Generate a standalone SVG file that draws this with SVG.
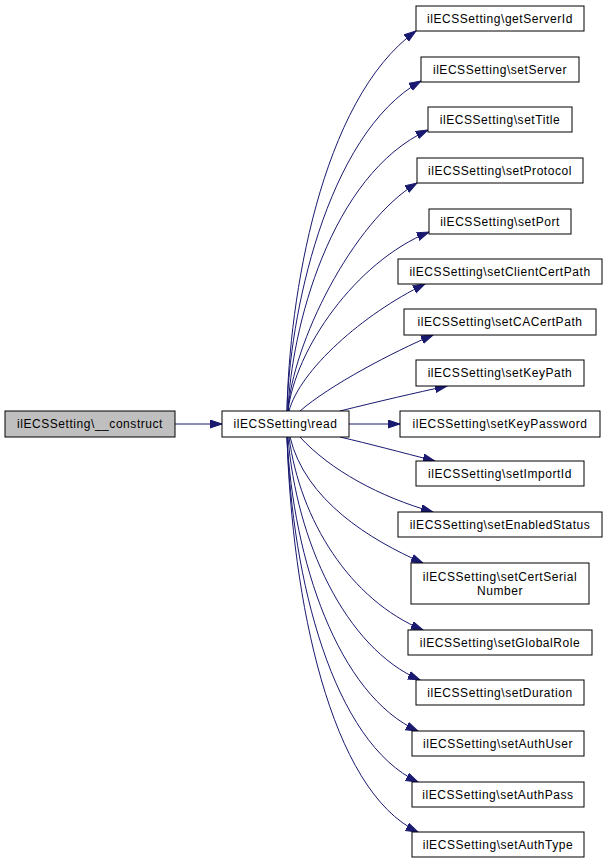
<svg xmlns="http://www.w3.org/2000/svg" width="608" height="864" viewBox="0 0 608 864">
<defs>
<style>
.node rect{fill:#ffffff;stroke:#000000;stroke-width:1}
.node.cur rect{fill:#bfbfbf}
.node text{font-family:"Liberation Sans",Arial,sans-serif;font-size:12px;letter-spacing:0.55px;text-anchor:middle;fill:#000000}
.edge path{fill:none;stroke:#191970;stroke-width:1}
</style>
<marker id="arr" markerUnits="userSpaceOnUse" markerWidth="14" markerHeight="10" refX="12" refY="4.5" orient="auto" viewBox="0 0 14 10">
<path d="M0,0.5 L12,4.5 L0,8.5 Z" fill="#191970" stroke="#191970" stroke-width="1"/>
</marker>
</defs>
<rect width="608" height="864" fill="#ffffff"/>
<g id="edges" class="edge">
<path d="M175,424 L222,424" marker-end="url(#arr)"/>
<path d="M287,411 C289,300 320,100 416,31" marker-end="url(#arr)"/>
<path d="M287,411 C289,320 325,135 421,81" marker-end="url(#arr)"/>
<path d="M288,411 C291,330 330,175 428,130" marker-end="url(#arr)"/>
<path d="M288,411 C292,345 352,222 417,183" marker-end="url(#arr)"/>
<path d="M288,411 C295,350 355,262 429,232" marker-end="url(#arr)"/>
<path d="M289,411 C300,370 363,314 425,284" marker-end="url(#arr)"/>
<path d="M300,411 C330,385 393,352 433,335" marker-end="url(#arr)"/>
<path d="M340,411 C380,401 415,393 447,386" marker-end="url(#arr)"/>
<path d="M349,424 L400,424" marker-end="url(#arr)"/>
<path d="M340,437 C370,444 400,452 435,461" marker-end="url(#arr)"/>
<path d="M300,437 C330,470 380,497 433,512" marker-end="url(#arr)"/>
<path d="M290,437 C305,500 370,540 423,563" marker-end="url(#arr)"/>
<path d="M289,437 C300,520 350,600 423,630" marker-end="url(#arr)"/>
<path d="M288,437 C296,540 345,648 420,680" marker-end="url(#arr)"/>
<path d="M287,437 C293,560 338,695 418,731" marker-end="url(#arr)"/>
<path d="M287,437 C292,580 333,742 418,782" marker-end="url(#arr)"/>
<path d="M287,437 C292,600 330,790 418,832" marker-end="url(#arr)"/>
</g>
<g id="node_construct" class="node cur"><rect x="5" y="411" width="170" height="26"/><text x="90" y="428">ilECSSetting\__construct</text></g>
<g id="node_read" class="node"><rect x="222" y="411" width="127" height="26"/><text x="285.5" y="428">ilECSSetting\read</text></g>
<g id="node_getServerId" class="node"><rect x="416" y="6" width="168" height="25"/><text x="500" y="23">ilECSSetting\getServerId</text></g>
<g id="node_setServer" class="node"><rect x="421" y="57" width="158" height="25"/><text x="500" y="74">ilECSSetting\setServer</text></g>
<g id="node_setTitle" class="node"><rect x="428" y="107" width="144" height="25"/><text x="500" y="124">ilECSSetting\setTitle</text></g>
<g id="node_setProtocol" class="node"><rect x="417" y="158" width="166" height="25"/><text x="500" y="175">ilECSSetting\setProtocol</text></g>
<g id="node_setPort" class="node"><rect x="429" y="209" width="142" height="25"/><text x="500" y="226">ilECSSetting\setPort</text></g>
<g id="node_setClientCertPath" class="node"><rect x="398" y="259" width="204" height="25"/><text x="500" y="276">ilECSSetting\setClientCertPath</text></g>
<g id="node_setCACertPath" class="node"><rect x="404" y="309" width="192" height="26"/><text x="500" y="326">ilECSSetting\setCACertPath</text></g>
<g id="node_setKeyPath" class="node"><rect x="416" y="360" width="168" height="26"/><text x="500" y="377">ilECSSetting\setKeyPath</text></g>
<g id="node_setKeyPassword" class="node"><rect x="400" y="411" width="200" height="26"/><text x="500" y="428">ilECSSetting\setKeyPassword</text></g>
<g id="node_setImportId" class="node"><rect x="416" y="461" width="168" height="25"/><text x="500" y="478">ilECSSetting\setImportId</text></g>
<g id="node_setEnabledStatus" class="node"><rect x="398" y="512" width="204" height="25"/><text x="500" y="529">ilECSSetting\setEnabledStatus</text></g>
<g id="node_setCertSerialNumber" class="node"><rect x="411" y="563" width="178" height="41"/><text x="500" y="581">ilECSSetting\setCertSerial</text><text x="500" y="595">Number</text></g>
<g id="node_setGlobalRole" class="node"><rect x="408" y="630" width="184" height="25"/><text x="500" y="647">ilECSSetting\setGlobalRole</text></g>
<g id="node_setDuration" class="node"><rect x="416" y="680" width="168" height="25"/><text x="500" y="697">ilECSSetting\setDuration</text></g>
<g id="node_setAuthUser" class="node"><rect x="412" y="731" width="172" height="25"/><text x="498" y="748">ilECSSetting\setAuthUser</text></g>
<g id="node_setAuthPass" class="node"><rect x="412" y="782" width="172" height="25"/><text x="498" y="799">ilECSSetting\setAuthPass</text></g>
<g id="node_setAuthType" class="node"><rect x="412" y="832" width="172" height="25"/><text x="498" y="849">ilECSSetting\setAuthType</text></g>
</svg>
